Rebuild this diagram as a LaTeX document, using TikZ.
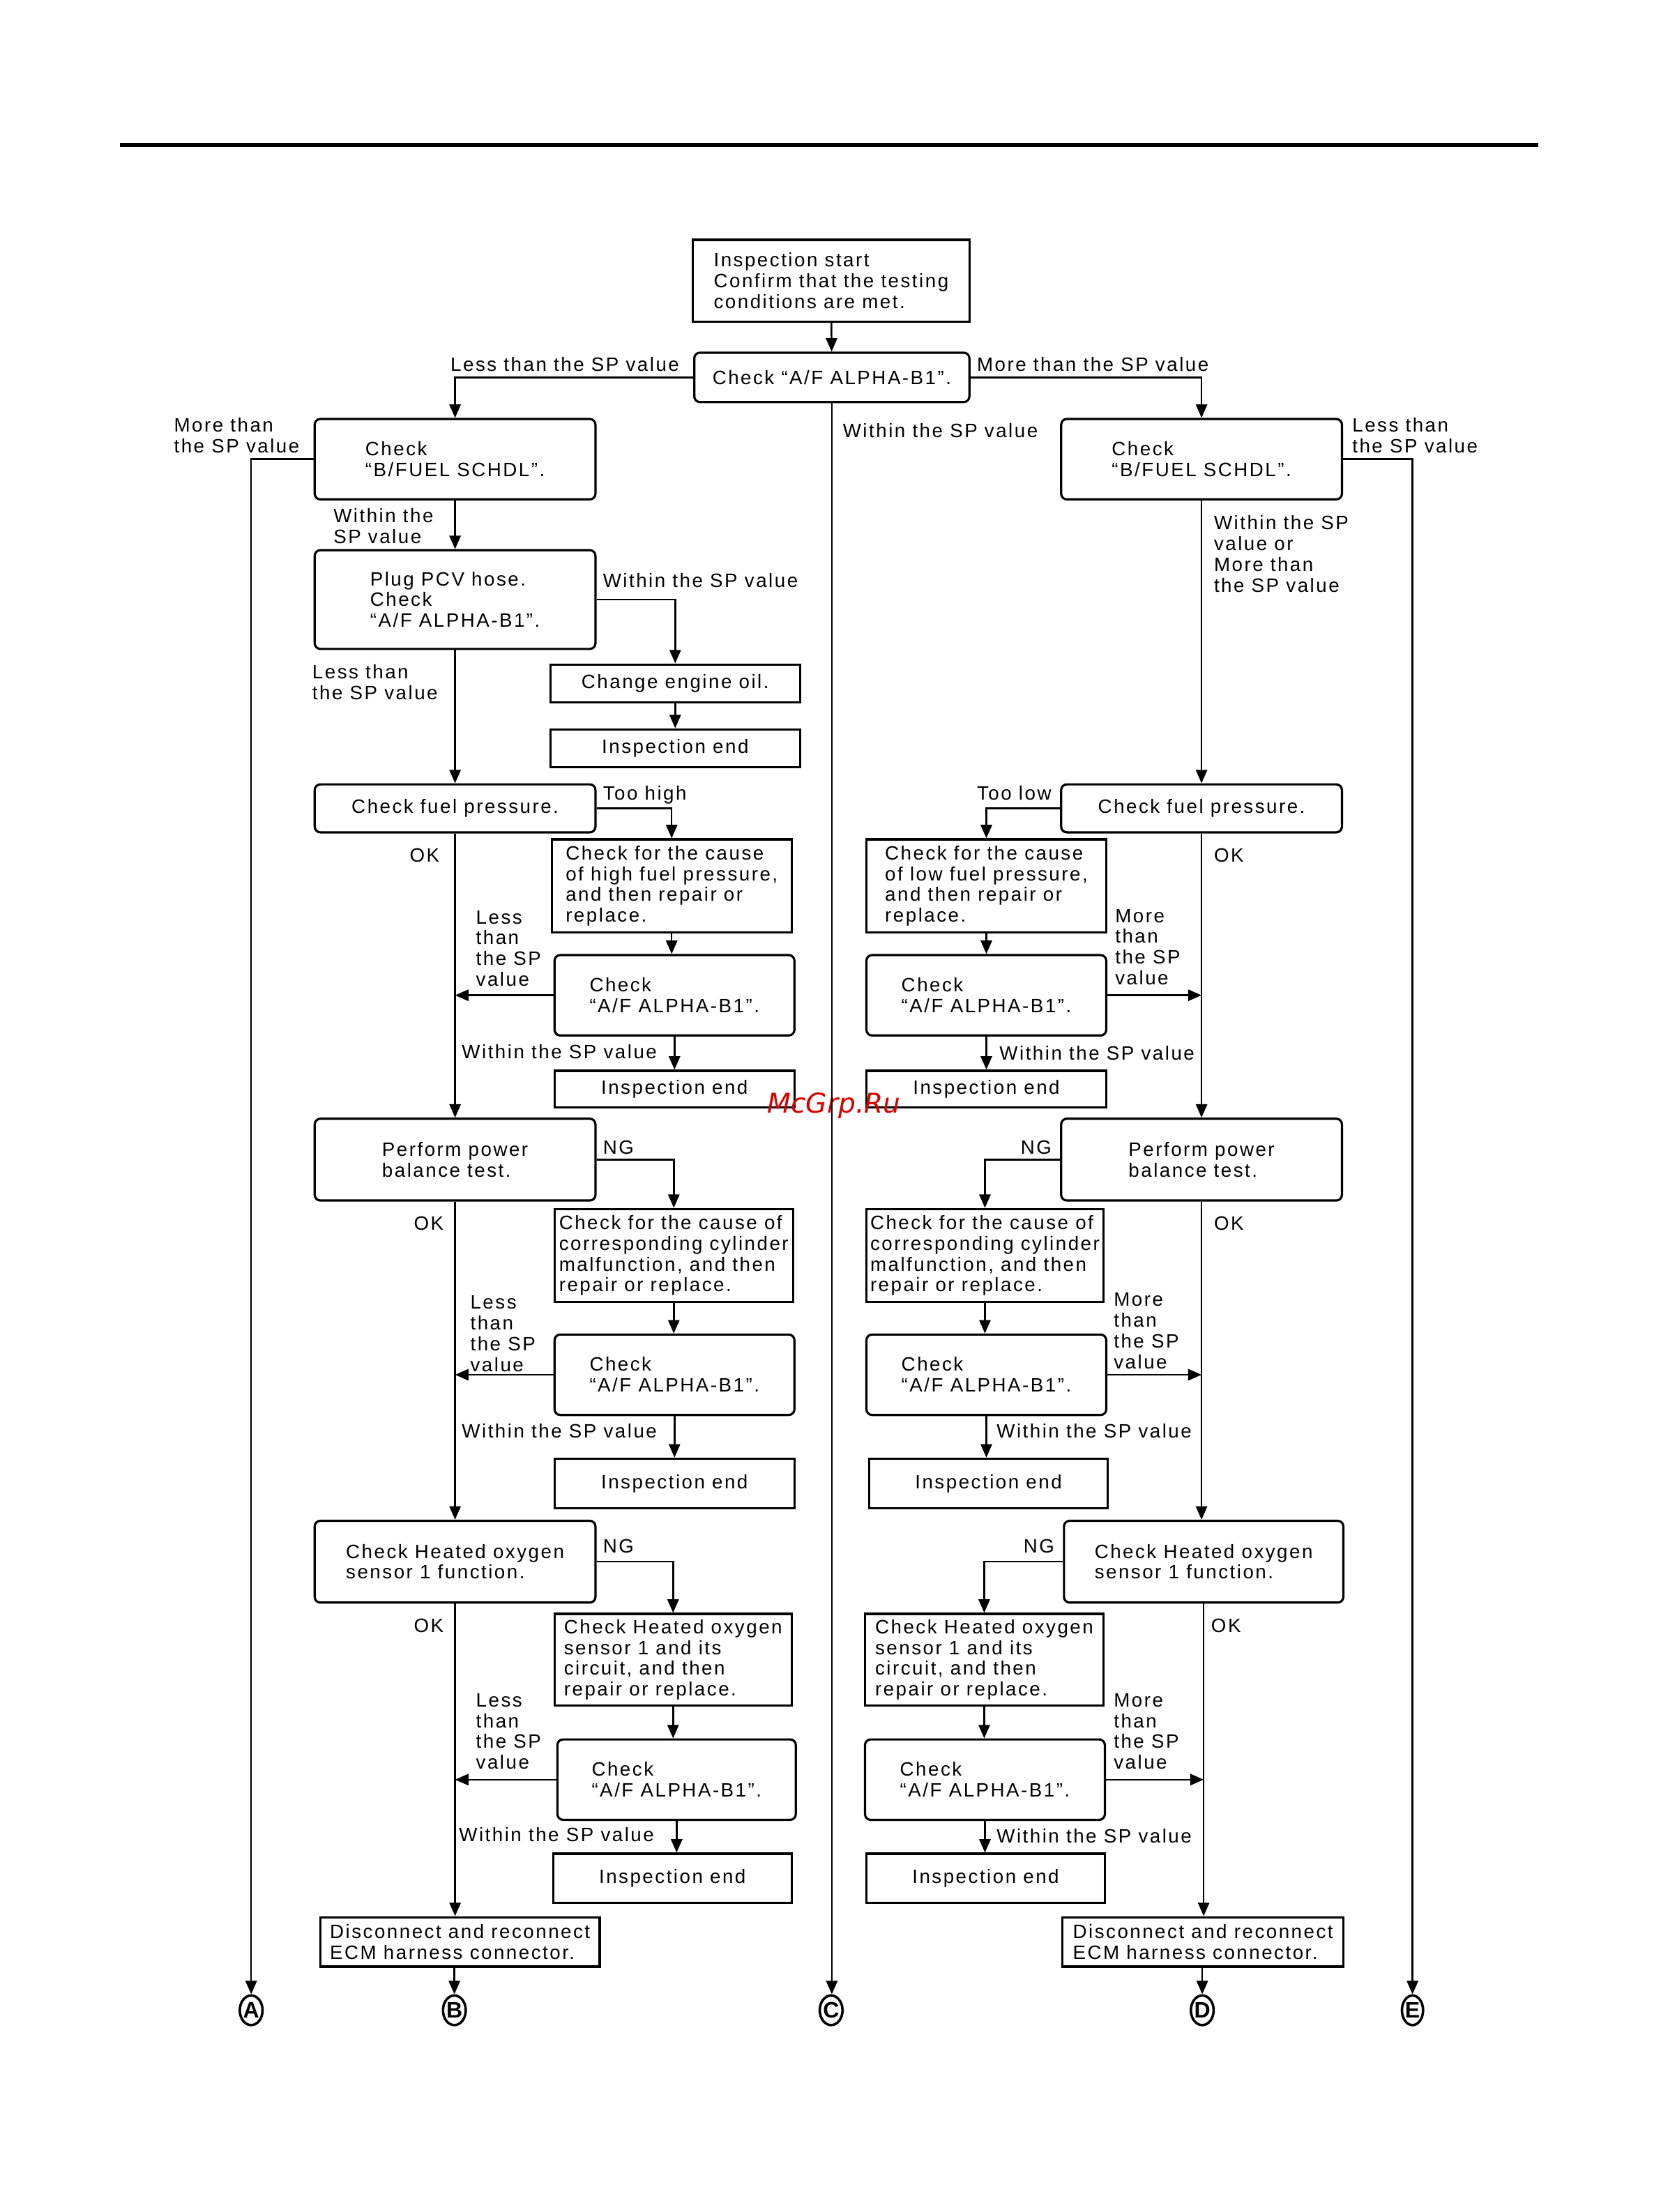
\documentclass[tikz,border=0pt]{standalone}
\usepackage{fontspec}
\setmainfont{Liberation Sans}[LetterSpace=9]
\newfontfamily\wmfont{DejaVu Sans}
\usetikzlibrary{arrows.meta,shapes.geometric}
\tikzset{
    rbox/.style={draw, line width=0.9pt, rounded corners=0.08cm, align=left, inner sep=1pt},
    sbox/.style={draw, line width=0.9pt, align=left, inner sep=1pt},
    flow/.style={line width=0.7pt, -{Triangle[length=0.19cm, width=0.16cm]}},
    lbl/.style={anchor=north west, inner sep=0pt, align=left},
    % circled letters at the foot of the chart
    endmark/.style={draw, ellipse, line width=1pt, minimum width=0.30cm,
        minimum height=0.42cm, inner sep=0pt, font=\bfseries\fontsize{9}{9}\selectfont}
}

\begin{document}
\begin{tikzpicture}[x=0.02cm, y=-0.02cm, every node/.style={font=\fontsize{7.8}{8.4}\selectfont}]
\useasboundingbox (0,0) rectangle (1177,1568);
\draw[line width=1.7pt] (85,103) -- (1090,103);

% top
\node[sbox, minimum width=3.92cm, minimum height=1.16cm] (start) at (589,199)
    {Inspection start\\Confirm that the testing\\conditions are met.};
\node[rbox, minimum width=3.90cm, minimum height=0.70cm] (chk0) at (589.5,267.5)
    {Check “A/F ALPHA-B1”.};

% left column
\node[rbox, minimum width=3.98cm, minimum height=1.14cm] (bfL) at (322.5,325.5) {Check\\“B/FUEL SCHDL”.};
\node[rbox, minimum width=3.98cm, minimum height=1.40cm] (pcv) at (322.5,425) {Plug PCV hose.\\Check\\“A/F ALPHA-B1”.};
\node[sbox, minimum width=3.54cm, minimum height=0.54cm] (oil) at (478.5,484.5) {Change engine oil.};
\node[sbox, minimum width=3.54cm, minimum height=0.54cm] (end0) at (478.5,530.5) {Inspection end};
\node[rbox, minimum width=3.98cm, minimum height=0.68cm] (fpL) at (322.5,573) {Check fuel pressure.};
\node[sbox, minimum width=3.40cm, minimum height=1.32cm] (hiF) at (476,628) {Check for the cause\\of high fuel pressure,\\and then repair or\\replace.};
\node[rbox, minimum width=3.40cm, minimum height=1.14cm] (afL1) at (478,705.5) {Check\\“A/F ALPHA-B1”.};
\node[sbox, minimum width=3.40cm, minimum height=0.52cm] (endL1) at (478,772) {Inspection end};
\node[rbox, minimum width=3.98cm, minimum height=1.16cm] (pbL) at (322.5,822) {Perform power\\balance test.};
\node[sbox, minimum width=3.38cm, minimum height=1.32cm] (cylL) at (477.5,890) {Check for the cause of\\corresponding cylinder\\malfunction, and then\\repair or replace.};
\node[rbox, minimum width=3.40cm, minimum height=1.14cm] (afL2) at (478,974.5) {Check\\“A/F ALPHA-B1”.};
\node[sbox, minimum width=3.40cm, minimum height=0.70cm] (endL2) at (478,1051.5) {Inspection end};
\node[rbox, minimum width=3.98cm, minimum height=1.16cm] (hoL) at (322.5,1107) {Check Heated oxygen\\sensor 1 function.};
\node[sbox, minimum width=3.36cm, minimum height=1.30cm] (senL) at (477,1176.5) {Check Heated oxygen\\sensor 1 and its\\circuit, and then\\repair or replace.};
\node[rbox, minimum width=3.38cm, minimum height=1.14cm] (afL3) at (479.5,1261.5) {Check\\“A/F ALPHA-B1”.};
\node[sbox, minimum width=3.38cm, minimum height=0.70cm] (endL3) at (476.5,1331.5) {Inspection end};
\node[sbox, minimum width=3.96cm, minimum height=0.70cm] (dcL) at (326,1376.5) {Disconnect and reconnect\\ECM harness connector.};

% right column
\node[rbox, minimum width=3.98cm, minimum height=1.14cm] (bfR) at (851.5,325.5) {Check\\“B/FUEL SCHDL”.};
\node[rbox, minimum width=3.98cm, minimum height=0.68cm] (fpR) at (851.5,573) {Check fuel pressure.};
\node[sbox, minimum width=3.40cm, minimum height=1.32cm] (loF) at (699,628) {Check for the cause\\of low fuel pressure,\\and then repair or\\replace.};
\node[rbox, minimum width=3.40cm, minimum height=1.14cm] (afR1) at (699,705.5) {Check\\“A/F ALPHA-B1”.};
\node[sbox, minimum width=3.40cm, minimum height=0.52cm] (endR1) at (699,772) {Inspection end};
\node[rbox, minimum width=3.98cm, minimum height=1.16cm] (pbR) at (851.5,822) {Perform power\\balance test.};
\node[sbox, minimum width=3.36cm, minimum height=1.32cm] (cylR) at (698,890) {Check for the cause of\\corresponding cylinder\\malfunction, and then\\repair or replace.};
\node[rbox, minimum width=3.40cm, minimum height=1.14cm] (afR2) at (699,974.5) {Check\\“A/F ALPHA-B1”.};
\node[sbox, minimum width=3.38cm, minimum height=0.70cm] (endR2) at (700.5,1051.5) {Inspection end};
\node[rbox, minimum width=3.96cm, minimum height=1.16cm] (hoR) at (853,1107) {Check Heated oxygen\\sensor 1 function.};
\node[sbox, minimum width=3.38cm, minimum height=1.30cm] (senR) at (697.5,1176.5) {Check Heated oxygen\\sensor 1 and its\\circuit, and then\\repair or replace.};
\node[rbox, minimum width=3.40cm, minimum height=1.14cm] (afR3) at (698,1261.5) {Check\\“A/F ALPHA-B1”.};
\node[sbox, minimum width=3.38cm, minimum height=0.70cm] (endR3) at (698.5,1331.5) {Inspection end};
\node[sbox, minimum width=3.98cm, minimum height=0.70cm] (dcR) at (852.5,1376.5) {Disconnect and reconnect\\ECM harness connector.};

\node[endmark] (mA) at (178,1425) {A};
\node[endmark] (mB) at (322,1425) {B};
\node[endmark] (mC) at (589,1425) {C};
\node[endmark] (mD) at (852,1425) {D};
\node[endmark] (mE) at (1001,1425) {E};

\node[text=red!85!black, font=\wmfont\itshape\fontsize{11}{11}\selectfont] (wm) at (591,784) {McGrp.Ru};

% connectors
\draw[flow] (start) -- (chk0);
\draw[flow] (chk0.west) -| (bfL.north);
\draw[flow] (chk0.east) -| (bfR.north);
\draw[flow] (chk0.south) -- (chk0.south |- mC.north);
\draw[flow] (bfL.west) -| (mA.north);
\draw[flow] (bfR.east) -| (mE.north);
\draw[flow] (bfL) -- (pcv);
\draw[flow] (pcv.east) -| (oil.north);
\draw[flow] (oil) -- (end0);
\draw[flow] (pcv) -- (fpL);
\draw[flow] (fpL.east) -| (hiF.north);
\draw[flow] (hiF.south) -- (hiF.south |- afL1.north);
\draw[flow] (afL1.west) -- (afL1.west -| pbL.north);
\draw[flow] (afL1) -- (endL1);
\draw[flow] (fpL) -- (pbL);
\draw[flow] (pbL.east) -| (cylL.north);
\draw[flow] (cylL.south) -- (cylL.south |- afL2.north);
\draw[flow] (afL2.west) -- (afL2.west -| pbL.south);
\draw[flow] (afL2.south) -- (afL2.south |- endL2.north);
\draw[flow] (pbL) -- (hoL);
\draw[flow] (hoL.east) -| (senL.north);
\draw[flow] (senL.south) -- (senL.south |- afL3.north);
\draw[flow] (afL3.west) -- (afL3.west -| hoL.south);
\draw[flow] (afL3.south) -- (afL3.south |- endL3.north);
\draw[flow] (hoL.south) -- (hoL.south |- dcL.north);
\draw[flow] (mB.north |- dcL.south) -- (mB.north);

\draw[flow] (bfR) -- (fpR);
\draw[flow] (fpR.west) -| (loF.north);
\draw[flow] (loF) -- (afR1);
\draw[flow] (afR1.east) -- (afR1.east -| fpR.south);
\draw[flow] (afR1) -- (endR1);
\draw[flow] (fpR) -- (pbR);
\draw[flow] (pbR.west) -| (cylR.north);
\draw[flow] (cylR.south) -- (cylR.south |- afR2.north);
\draw[flow] (afR2.east) -- (afR2.east -| pbR.south);
\draw[flow] (afR2.south) -- (afR2.south |- endR2.north);
\draw[flow] (pbR.south) -- (pbR.south |- hoR.north);
\draw[flow] (hoR.west) -| (senR.north);
\draw[flow] (senR.south) -- (senR.south |- afR3.north);
\draw[flow] (afR3.east) -- (afR3.east -| hoR.south);
\draw[flow] (afR3.south) -- (afR3.south |- endR3.north);
\draw[flow] (hoR.south) -- (hoR.south |- dcR.north);
\draw[flow] (mD.north |- dcR.south) -- (mD.north);

% labels
\node[lbl] (t1) at (319,253) {Less than the SP value};
\node[lbl] (t2) at (692,253) {More than the SP value};
\node[lbl] (t3) at (597,300) {Within the SP value};
\node[lbl] (t4) at (123,296) {More than\\the SP value};
\node[lbl] (t5) at (958,296) {Less than\\the SP value};
\node[lbl] (t6) at (236,360) {Within the\\SP value};
\node[lbl] (t7) at (427,406) {Within the SP value};
\node[lbl] (t8) at (221,471) {Less than\\the SP value};
\node[lbl] (t9) at (860,365) {Within the SP\\value or\\More than\\the SP value};
\node[lbl] (t10) at (427,557) {Too high};
\node[lbl] (t11) at (692,557) {Too low};

\node[lbl] (okL1) at (290,601) {OK};
\node[lbl] (okR1) at (860,601) {OK};
\node[lbl] (ltL1) at (337,645) {Less\\than\\the SP\\value};
\node[lbl] (mtR1) at (790,644) {More\\than\\the SP\\value};
\node[lbl] (wL1) at (327,740) {Within the SP value};
\node[lbl] (wR1) at (708,741) {Within the SP value};

\node[lbl] (ngL2) at (427,808) {NG};
\node[lbl] (ngR2) at (723,808) {NG};
\node[lbl] (okL2) at (293,862) {OK};
\node[lbl] (okR2) at (860,862) {OK};
\node[lbl] (ltL2) at (333,918) {Less\\than\\the SP\\value};
\node[lbl] (mtR2) at (789,916) {More\\than\\the SP\\value};
\node[lbl] (wL2) at (327,1009) {Within the SP value};
\node[lbl] (wR2) at (706,1009) {Within the SP value};

\node[lbl] (ngL3) at (427,1091) {NG};
\node[lbl] (ngR3) at (725,1091) {NG};
\node[lbl] (okL3) at (293,1147) {OK};
\node[lbl] (okR3) at (858,1147) {OK};
\node[lbl] (ltL3) at (337,1200) {Less\\than\\the SP\\value};
\node[lbl] (mtR3) at (789,1200) {More\\than\\the SP\\value};
\node[lbl] (wL3) at (325,1295) {Within the SP value};
\node[lbl] (wR3) at (706,1296) {Within the SP value};
\end{tikzpicture}
\end{document}
